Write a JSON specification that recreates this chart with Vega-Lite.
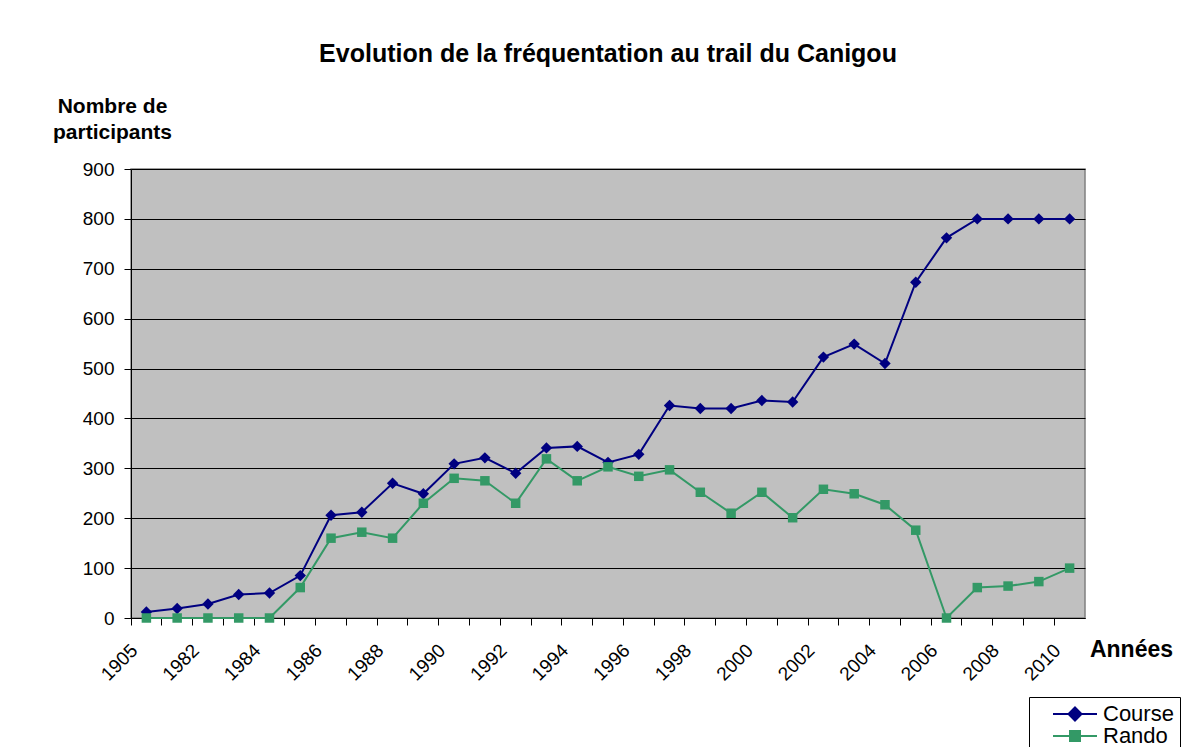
{
  "$schema": "https://vega.github.io/schema/vega-lite/v6.json",
  "width": 954,
  "height": 449,
  "autosize": {"type": "none"},
  "padding": {"left": 131, "top": 169, "right": 102, "bottom": 129},
  "background": "white",
  "title": {
    "text": "Evolution de la fréquentation au trail du Canigou",
    "font": "Liberation Sans",
    "fontSize": 25,
    "fontWeight": "bold",
    "color": "black",
    "anchor": "middle",
    "frame": "group",
    "offset": 28
  },
  "config": {
    "view": {"fill": "#C0C0C0", "stroke": "#808080", "strokeWidth": 1.5},
    "font": "Liberation Sans"
  },
  "data": {
    "values": [
      {"annee": "1905", "serie": "Course", "valeur": 12},
      {"annee": "1981", "serie": "Course", "valeur": 19},
      {"annee": "1982", "serie": "Course", "valeur": 28},
      {"annee": "1983", "serie": "Course", "valeur": 47},
      {"annee": "1984", "serie": "Course", "valeur": 50},
      {"annee": "1985", "serie": "Course", "valeur": 85},
      {"annee": "1986", "serie": "Course", "valeur": 206},
      {"annee": "1987", "serie": "Course", "valeur": 212},
      {"annee": "1988", "serie": "Course", "valeur": 270},
      {"annee": "1989", "serie": "Course", "valeur": 249},
      {"annee": "1990", "serie": "Course", "valeur": 309},
      {"annee": "1991", "serie": "Course", "valeur": 321},
      {"annee": "1992", "serie": "Course", "valeur": 290},
      {"annee": "1993", "serie": "Course", "valeur": 341},
      {"annee": "1994", "serie": "Course", "valeur": 344},
      {"annee": "1995", "serie": "Course", "valeur": 312},
      {"annee": "1996", "serie": "Course", "valeur": 328},
      {"annee": "1997", "serie": "Course", "valeur": 426},
      {"annee": "1998", "serie": "Course", "valeur": 420},
      {"annee": "1999", "serie": "Course", "valeur": 420},
      {"annee": "2000", "serie": "Course", "valeur": 436},
      {"annee": "2001", "serie": "Course", "valeur": 433},
      {"annee": "2002", "serie": "Course", "valeur": 523},
      {"annee": "2003", "serie": "Course", "valeur": 549},
      {"annee": "2004", "serie": "Course", "valeur": 510},
      {"annee": "2005", "serie": "Course", "valeur": 673},
      {"annee": "2006", "serie": "Course", "valeur": 762},
      {"annee": "2007", "serie": "Course", "valeur": 800},
      {"annee": "2008", "serie": "Course", "valeur": 800},
      {"annee": "2009", "serie": "Course", "valeur": 800},
      {"annee": "2010", "serie": "Course", "valeur": 800},
      {"annee": "1905", "serie": "Rando", "valeur": 0},
      {"annee": "1981", "serie": "Rando", "valeur": 0},
      {"annee": "1982", "serie": "Rando", "valeur": 0},
      {"annee": "1983", "serie": "Rando", "valeur": 0},
      {"annee": "1984", "serie": "Rando", "valeur": 0},
      {"annee": "1985", "serie": "Rando", "valeur": 61},
      {"annee": "1986", "serie": "Rando", "valeur": 160},
      {"annee": "1987", "serie": "Rando", "valeur": 172},
      {"annee": "1988", "serie": "Rando", "valeur": 160},
      {"annee": "1989", "serie": "Rando", "valeur": 230},
      {"annee": "1990", "serie": "Rando", "valeur": 280},
      {"annee": "1991", "serie": "Rando", "valeur": 275},
      {"annee": "1992", "serie": "Rando", "valeur": 230},
      {"annee": "1993", "serie": "Rando", "valeur": 319},
      {"annee": "1994", "serie": "Rando", "valeur": 275},
      {"annee": "1995", "serie": "Rando", "valeur": 303},
      {"annee": "1996", "serie": "Rando", "valeur": 284},
      {"annee": "1997", "serie": "Rando", "valeur": 297},
      {"annee": "1998", "serie": "Rando", "valeur": 252},
      {"annee": "1999", "serie": "Rando", "valeur": 210},
      {"annee": "2000", "serie": "Rando", "valeur": 252},
      {"annee": "2001", "serie": "Rando", "valeur": 201},
      {"annee": "2002", "serie": "Rando", "valeur": 258},
      {"annee": "2003", "serie": "Rando", "valeur": 249},
      {"annee": "2004", "serie": "Rando", "valeur": 227},
      {"annee": "2005", "serie": "Rando", "valeur": 176},
      {"annee": "2006", "serie": "Rando", "valeur": 0},
      {"annee": "2007", "serie": "Rando", "valeur": 61},
      {"annee": "2008", "serie": "Rando", "valeur": 64},
      {"annee": "2009", "serie": "Rando", "valeur": 73},
      {"annee": "2010", "serie": "Rando", "valeur": 100}
    ]
  },
  "encoding": {
    "x": {
      "field": "annee",
      "type": "ordinal",
      "sort": null,
      "scale": {"type": "band", "paddingInner": 0, "paddingOuter": 0},
      "axis": {
        "title": "Années",
        "titleFont": "Liberation Sans",
        "titleFontSize": 23,
        "titleFontWeight": "bold",
        "titleColor": "black",
        "titleAngle": 0,
        "titleAlign": "center",
        "titleBaseline": "middle",
        "titleX": 1000,
        "titleY": 31,
        "bandPosition": 0,
        "domainColor": "black",
        "domainWidth": 1,
        "tickColor": "black",
        "tickSize": 7,
        "tickWidth": 1,
        "labelAngle": -45,
        "labelAlign": "right",
        "labelBaseline": "middle",
        "labelOffset": -12,
        "labelPadding": 22,
        "labelFont": "Liberation Sans",
        "labelFontSize": 19,
        "labelColor": "black",
        "labelOverlap": false,
        "labelBound": false,
        "labelExpr": "(datum.value == '1905' || toNumber(datum.value) % 2 == 0) ? datum.label : ''",
        "grid": false
      }
    },
    "y": {
      "field": "valeur",
      "type": "quantitative",
      "scale": {"domain": [0, 900], "nice": false},
      "axis": {
        "title": ["Nombre de", "participants"],
        "titleFont": "Liberation Sans",
        "titleFontSize": 21,
        "titleFontWeight": "bold",
        "titleColor": "black",
        "titleAngle": 0,
        "titleAlign": "center",
        "titleBaseline": "alphabetic",
        "titleLineHeight": 26,
        "titleX": -19,
        "titleY": -57,
        "values": [0, 100, 200, 300, 400, 500, 600, 700, 800, 900],
        "domainColor": "black",
        "domainWidth": 1,
        "tickColor": "black",
        "tickSize": 7,
        "labelFont": "Liberation Sans",
        "labelFontSize": 19,
        "labelColor": "black",
        "labelPadding": 10,
        "grid": true,
        "gridColor": "black",
        "gridWidth": 1,
        "gridOpacity": 1
      }
    }
  },
  "layer": [
    {
      "transform": [{"filter": "datum.serie == 'Course'"}],
      "mark": {"type": "line", "strokeWidth": 2, "color": "#000080"}
    },
    {
      "transform": [{"filter": "datum.serie == 'Rando'"}],
      "mark": {"type": "line", "strokeWidth": 2, "color": "#339966"}
    },
    {
      "transform": [{"filter": "datum.serie == 'Course'"}],
      "mark": {"type": "point", "shape": "diamond", "filled": true, "opacity": 1, "color": "#000080", "size": 130}
    },
    {
      "transform": [{"filter": "datum.serie == 'Rando'"}],
      "mark": {"type": "point", "shape": "square", "filled": true, "opacity": 1, "color": "#339966", "size": 90}
    },
    {
      "mark": {"type": "point", "filled": true, "opacity": 0, "size": 100, "strokeWidth": 2},
      "encoding": {
        "fill": {
          "field": "serie",
          "type": "nominal",
          "scale": {"domain": ["Course", "Rando"], "range": ["#000080", "#339966"]},
          "legend": {
            "title": null,
            "orient": "none",
            "legendX": 898,
            "legendY": 528,
            "padding": 6,
            "strokeColor": "black",
            "fillColor": "white",
            "cornerRadius": 0,
            "symbolSize": 100,
            "symbolStrokeWidth": 2,
            "symbolOpacity": 1,
            "labelOffset": 46,
            "labelFont": "Liberation Sans",
            "labelFontSize": 22,
            "labelColor": "black",
            "rowPadding": 0
          }
        },
        "stroke": {
          "field": "serie",
          "type": "nominal",
          "scale": {"domain": ["Course", "Rando"], "range": ["#000080", "#339966"]},
          "legend": {
            "title": null,
            "orient": "none",
            "legendX": 898,
            "legendY": 528,
            "padding": 6,
            "strokeColor": "black",
            "fillColor": "white",
            "cornerRadius": 0,
            "symbolSize": 100,
            "symbolStrokeWidth": 2,
            "symbolOpacity": 1,
            "labelOffset": 46,
            "labelFont": "Liberation Sans",
            "labelFontSize": 22,
            "labelColor": "black",
            "rowPadding": 0
          }
        },
        "shape": {
          "field": "serie",
          "type": "nominal",
          "scale": {"domain": ["Course", "Rando"], "range": ["M1.4,0H10.2M5.8,-1.3L7.1,0L5.8,1.3L4.5,0Z", "M1.4,0H10.2M4.8,-1H6.8V1H4.8Z"]},
          "legend": {
            "title": null,
            "orient": "none",
            "legendX": 898,
            "legendY": 528,
            "padding": 6,
            "strokeColor": "black",
            "fillColor": "white",
            "cornerRadius": 0,
            "symbolSize": 100,
            "symbolStrokeWidth": 2,
            "symbolOpacity": 1,
            "labelOffset": 46,
            "labelFont": "Liberation Sans",
            "labelFontSize": 22,
            "labelColor": "black",
            "rowPadding": 0
          }
        }
      }
    }
  ]
}
